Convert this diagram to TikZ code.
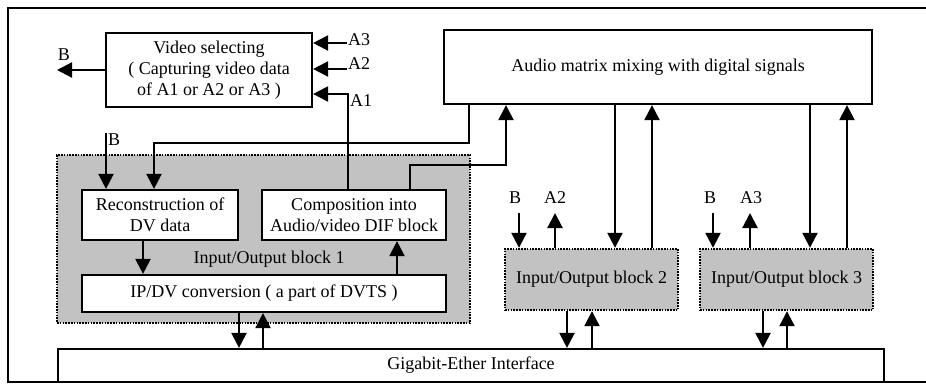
\documentclass[tikz,border=0pt]{standalone}
\usepackage{fontspec}
\setmainfont{Liberation Serif}
\usetikzlibrary{arrows.meta}
\begin{document}
\begin{tikzpicture}[x=1pt, y=-1pt,
  font=\fontsize{18pt}{21pt}\selectfont,
  box/.style={draw, line width=2.2pt, fill=white, align=center, inner sep=0pt},
  iobox/.style={draw, line width=2.4pt, dash pattern=on 1.6pt off 1.2pt,
                fill=black!24, inner sep=0pt, align=center},
  arr/.style={line width=2.2pt, -{Triangle[length=15pt,width=15pt]}},
  lbl/.style={inner sep=0pt}]
  \useasboundingbox (0,0) rectangle (926,386);

  % outer frame (open on the right)
  \draw[line width=2pt] (930,8) -- (8,8) -- (8,382) -- (930,382);

  % top row
  \node[box, minimum width=206pt, minimum height=74pt] (vid) at (209,70)
    {Video selecting\\( Capturing video data\\of A1 or A2 or A3 )};
  \node[box, minimum width=428pt, minimum height=74pt] (audio) at (658,67)
    {Audio matrix mixing with digital signals};

  % input/output block 1 and its parts
  \node[iobox, minimum width=413pt, minimum height=168pt] (io1) at (263.5,239) {};
  \node[box, minimum width=156pt, minimum height=50pt] (recon) at (160,215)
    {Reconstruction of\\DV data};
  \node[box, minimum width=184pt, minimum height=50pt] (comp) at (354,215)
    {Composition into\\Audio/video DIF block};
  \node[box, minimum width=364pt, minimum height=37pt] (ipdv) at (264,293.5)
    {IP/DV conversion ( a part of DVTS )};
  \node[lbl] (io1lbl) at (269,259) {Input/Output block 1};

  % input/output blocks 2 and 3
  \node[iobox, minimum width=173pt, minimum height=61pt] (io2) at (591.5,279.5)
    {Input/Output block 2};
  \node[iobox, minimum width=173pt, minimum height=61pt] (io3) at (786.5,279.5)
    {Input/Output block 3};

  % network interface
  \node[box, minimum width=826pt, minimum height=33pt] (giga) at (471,365.5)
    {Gigabit-Ether Interface};

  % video selecting inputs and output
  \coordinate (bout) at (57,70);
  \draw[arr] (vid.west) -- (bout);
  \node[lbl] (bl1) at (64,55) {B};
  \coordinate (a3end) at (347,43);
  \coordinate (a2end) at (347,69);
  \coordinate (a1turn) at (348,94);
  \node[lbl, anchor=west] (a3lbl) at (348,40) {A3};
  \node[lbl, anchor=west] (a2lbl) at (348,64) {A2};
  \node[lbl, anchor=west] (a1lbl) at (350,101) {A1};
  \draw[arr] (a3end) -- (vid.east |- a3end);
  \draw[arr] (a2end) -- (vid.east |- a2end);
  \draw[arr] (a1turn |- comp.north) -- (a1turn) -- (vid.east |- a1turn);

  % block 1 connections
  \coordinate (bin) at (106,133);
  \node[lbl, anchor=west] (bl2) at (108,140) {B};
  \draw[arr] (bin) -- (bin |- recon.north);
  \draw[arr] (469,0 |- audio.south) -- (469,143) -- (154,143) -- (154,0 |- recon.north);
  \draw[arr] (410,0 |- comp.north) -- (410,165) -- (506,165) -- (506,0 |- audio.south);
  \draw[arr] (143,0 |- recon.south) -- (143,0 |- ipdv.north);
  \draw[arr] (397,0 |- ipdv.north) -- (397,0 |- comp.south);
  \draw[arr] (239,0 |- ipdv.south) -- (239,0 |- giga.north);
  \draw[arr] (263,0 |- giga.north) -- (263,0 |- ipdv.south);

  % block 2 connections
  \node[lbl] (bl3) at (515,198) {B};
  \node[lbl] (a2lbl2) at (555,198) {A2};
  \coordinate (b2in) at (519,213);
  \coordinate (a2out) at (555,213);
  \draw[arr] (b2in) -- (b2in |- io2.north);
  \draw[arr] (a2out |- io2.north) -- (a2out);
  \draw[arr] (615,0 |- audio.south) -- (615,0 |- io2.north);
  \draw[arr] (652,0 |- io2.north) -- (652,0 |- audio.south);
  \draw[arr] (567,0 |- io2.south) -- (567,0 |- giga.north);
  \draw[arr] (592,0 |- giga.north) -- (592,0 |- io2.south);

  % block 3 connections
  \node[lbl] (bl4) at (710,198) {B};
  \node[lbl] (a3lbl2) at (751,198) {A3};
  \coordinate (b3in) at (713,213);
  \coordinate (a3out) at (750,213);
  \draw[arr] (b3in) -- (b3in |- io3.north);
  \draw[arr] (a3out |- io3.north) -- (a3out);
  \draw[arr] (810,0 |- audio.south) -- (810,0 |- io3.north);
  \draw[arr] (847,0 |- io3.north) -- (847,0 |- audio.south);
  \draw[arr] (763,0 |- io3.south) -- (763,0 |- giga.north);
  \draw[arr] (787,0 |- giga.north) -- (787,0 |- io3.south);
\end{tikzpicture}
\end{document}
